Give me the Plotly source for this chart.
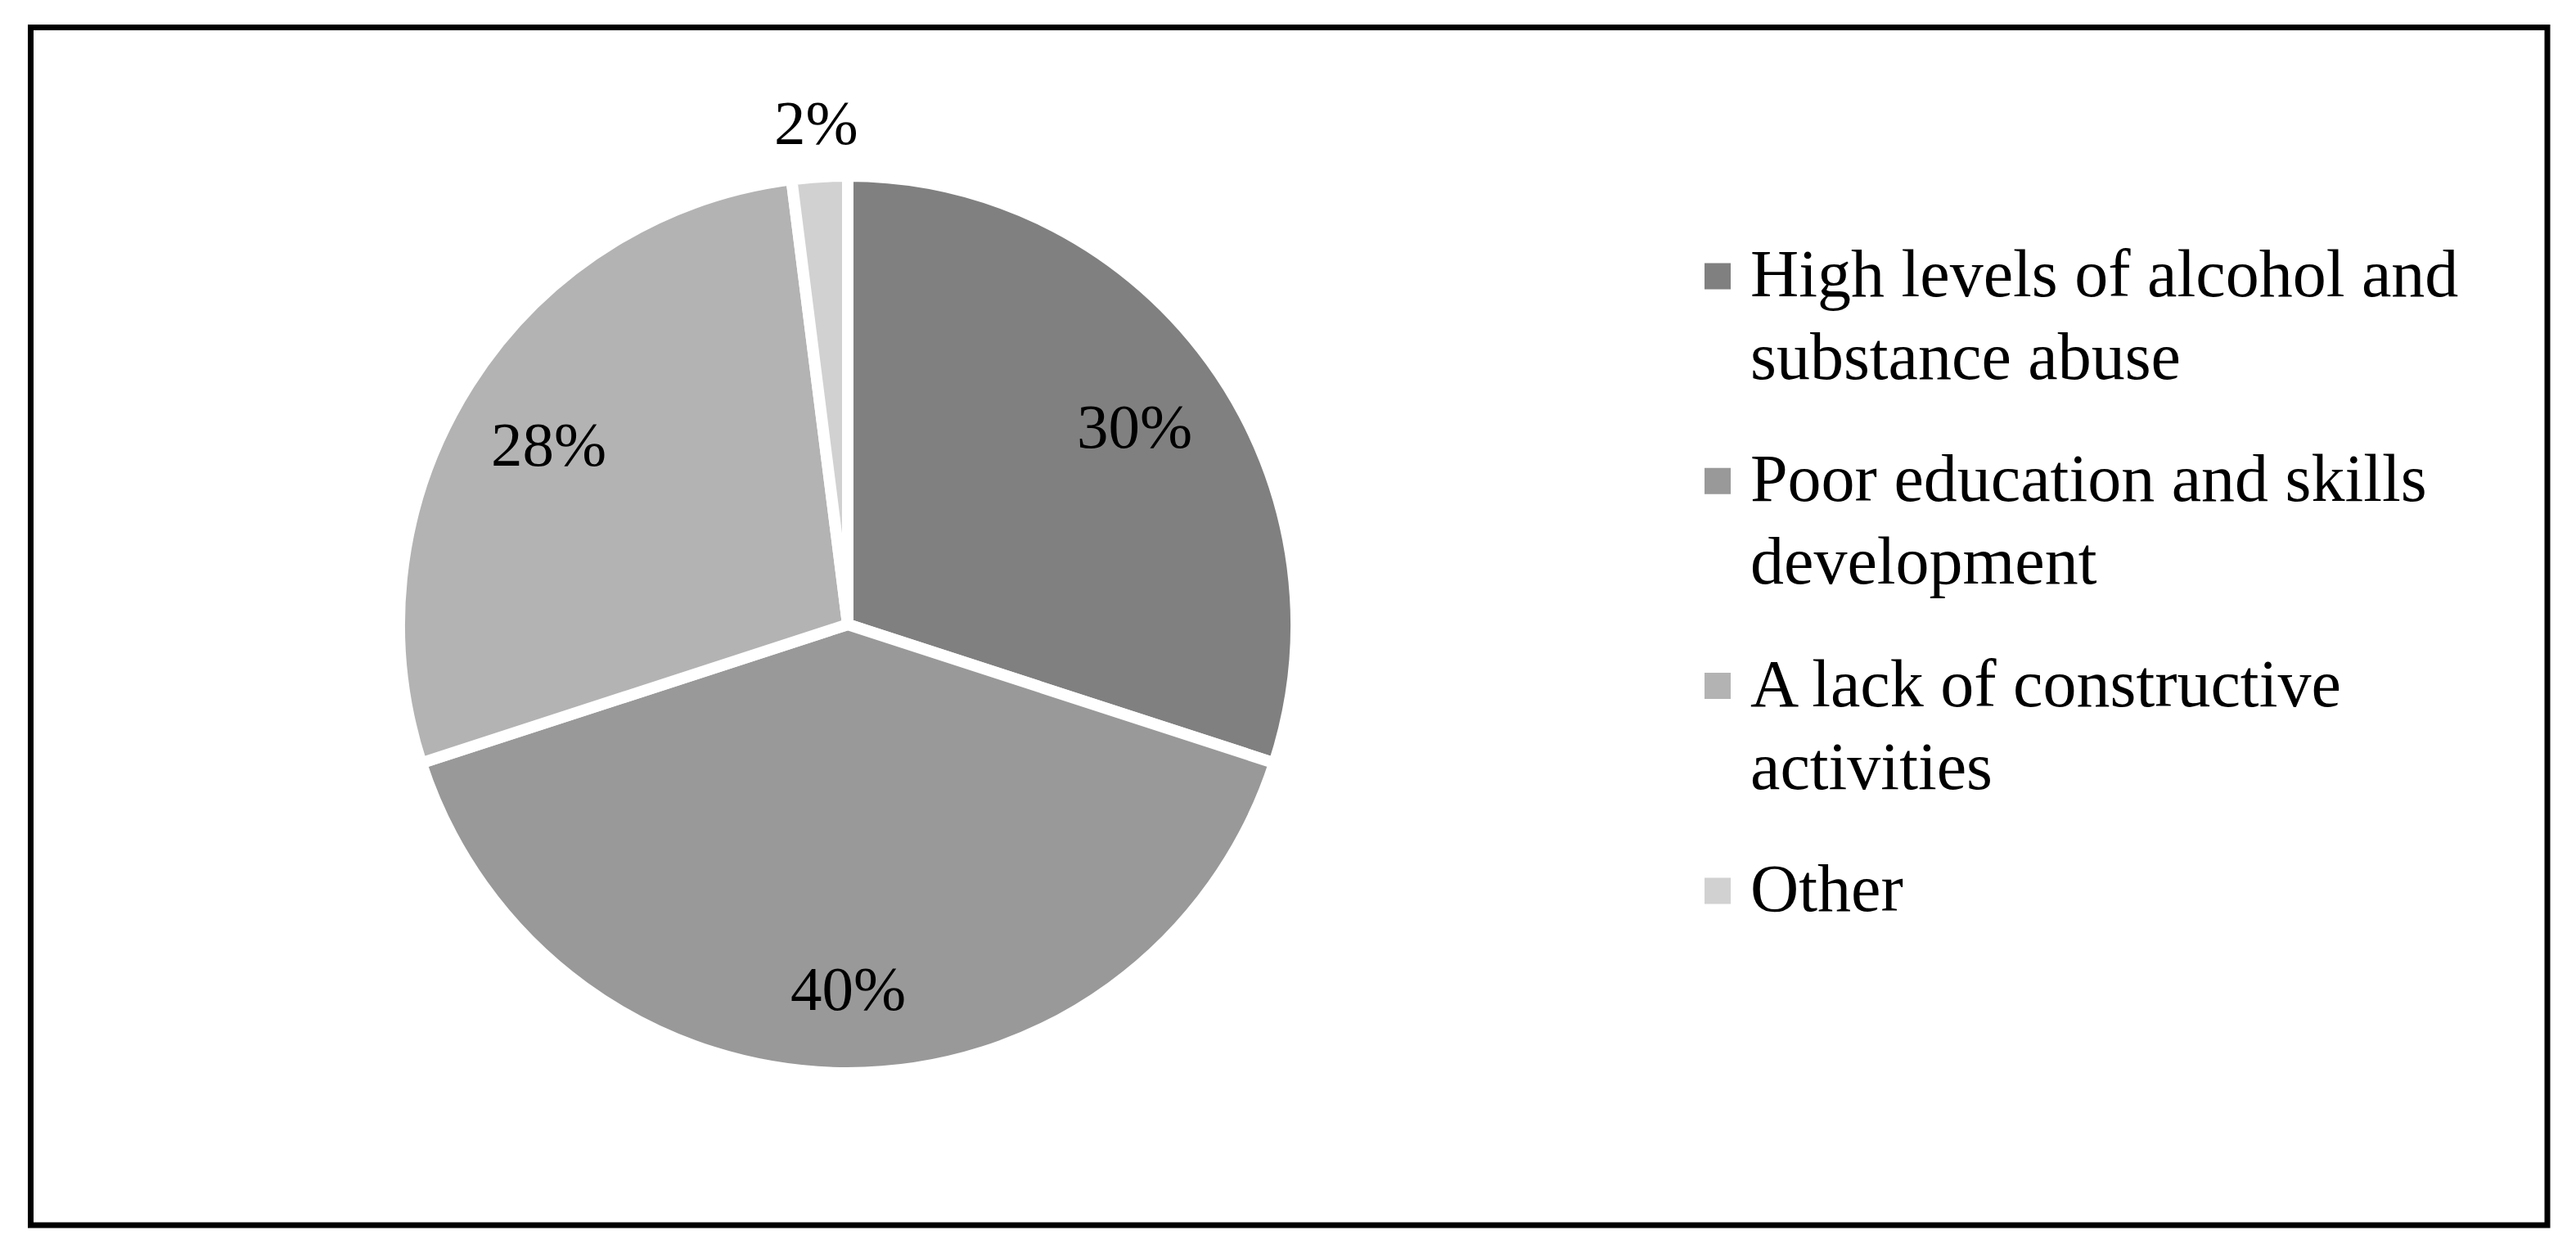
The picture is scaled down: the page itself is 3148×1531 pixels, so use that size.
import math
import plotly.graph_objects as go

# ---- data ----
labels = [
    "High levels of alcohol and substance abuse",
    "Poor education and skills development",
    "A lack of constructive activities",
    "Other",
]
legend_lines = [
    ["High levels of alcohol and", "substance abuse"],
    ["Poor education and skills", "development"],
    ["A lack of constructive", "activities"],
    ["Other"],
]
values = [30, 40, 28, 2]
colors = ["#808080", "#999999", "#b3b3b3", "#d1d1d1"]
label_pos = ["inside", "inside", "inside", "outside"]

W, H = 3148, 1531
FONT = "Liberation Serif, Times New Roman, serif"


def px(x):
    return x / W


def py(y):
    return 1 - y / H


# pie geometry (pixels)
cx, cy, r = 1036, 763, 548
dom_x = [px(cx - r), px(cx + r)]
dom_y = [py(cy + r), py(cy - r)]

fig = go.Figure()

# pie slices
fig.add_trace(go.Pie(
    labels=labels, values=values, sort=False, direction="clockwise", rotation=0,
    marker=dict(colors=colors, line=dict(color="white", width=14)),
    textinfo="none", hoverinfo="label+percent", showlegend=False,
    domain=dict(x=dom_x, y=dom_y),
))

annotations = []
shapes = []

# percentage labels placed at each slice's mid-angle (computed from the values)
total = sum(values)
cum = 0
for v, pos in zip(values, label_pos):
    mid = (cum + v / 2) / total * 2 * math.pi
    cum += v
    rr = r * (0.79 if pos == "inside" else 1.12)
    lx = cx + rr * math.sin(mid)
    ly = cy - rr * math.cos(mid)
    annotations.append(dict(
        text=f"{round(v / total * 100)}%", xref="paper", yref="paper",
        x=px(lx), y=py(ly), xanchor="center", yanchor="middle", showarrow=False,
        yshift=-12 if pos == "inside" else 0,
        font=dict(family=FONT, size=77, color="black"),
    ))

# legend (squares + wrapped text) built from the lists
sq_x0, sq_size = 2083, 32
first_center, pitch, line_pitch = 337.5, 250.3, 101
text_x = 2137
for i, (lines, col) in enumerate(zip(legend_lines, colors)):
    c = first_center + i * pitch
    shapes.append(dict(
        type="rect", xref="paper", yref="paper",
        x0=px(sq_x0), x1=px(sq_x0 + sq_size),
        y0=py(c + sq_size / 2), y1=py(c - sq_size / 2),
        fillcolor=col, line=dict(width=0),
    ))
    for j, t in enumerate(lines):
        annotations.append(dict(
            text=t, xref="paper", yref="paper",
            x=px(text_x), y=py(c - 3 + j * line_pitch),
            xanchor="left", yanchor="middle", showarrow=False,
            font=dict(family=FONT, size=82, color="black"),
        ))

# outer frame
shapes.append(dict(
    type="rect", xref="paper", yref="paper",
    x0=px(37.5), x1=px(3113), y0=py(1497), y1=py(33.5),
    line=dict(color="black", width=7), fillcolor="rgba(0,0,0,0)",
))

fig.update_layout(
    width=W, height=H,
    margin=dict(l=0, r=0, t=0, b=0),
    paper_bgcolor="white", plot_bgcolor="white",
    font=dict(family=FONT, color="black"),
    shapes=shapes, annotations=annotations,
    showlegend=False,
)

fig.write_html(
    "out.html",
    config={"displayModeBar": False},
    post_script="document.body.style.margin='0';document.body.style.overflow='hidden';",
)
